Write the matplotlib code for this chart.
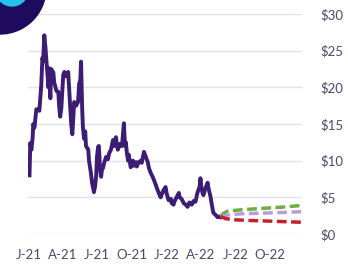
import matplotlib
matplotlib.use("Agg")
import matplotlib.pyplot as plt
import matplotlib.transforms as mtransforms
from matplotlib.patches import Circle
import pandas as pd

# ---- data (days since 2021-01-01, price in $) ----
start = pd.Timestamp("2021-01-01")
hist_days = [3, 5, 8, 11, 13, 16, 18, 21, 26, 29, 34, 37, 39, 42, 45, 47, 50, 53, 55, 58,
             60, 66, 68, 74, 79, 81, 84, 87, 92, 95, 100, 105, 108, 110, 113, 116, 118, 121,
             126, 131, 134, 137, 139, 142, 144, 147, 150, 152, 158, 160, 163, 165, 168, 171,
             173, 176, 179, 181, 184, 186, 189, 192, 194, 197, 200, 205, 210, 213, 218, 223,
             226, 231, 234, 236, 242, 247, 252, 255, 257, 260, 263, 265, 270, 276, 278, 284,
             286, 291, 297, 299, 305, 310, 315, 318, 323, 328, 334, 341, 347, 349, 355, 357,
             362, 365, 370, 376, 378, 383, 386, 391, 397, 399, 404, 410, 415, 420, 425, 431,
             436, 441, 446, 452, 454, 457, 460, 462, 467, 473, 475, 481, 483, 486, 488, 494,
             499, 504, 507]
hist_price = [8.0, 12.4, 11.5, 13.0, 15.0, 14.5, 15.5, 17.0, 17.0, 16.8, 20.3, 24.0, 23.5,
              27.1, 25.5, 24.0, 22.0, 20.0, 22.6, 18.5, 22.5, 22.0, 20.7, 19.5, 19.4, 17.5,
              16.0, 17.2, 21.7, 22.1, 21.5, 22.1, 19.4, 17.5, 15.0, 13.6, 15.3, 18.0, 17.5,
              18.0, 20.5, 21.0, 23.5, 17.0, 14.5, 13.0, 14.0, 12.0, 11.5, 10.0, 9.0, 8.3,
              7.0, 6.2, 5.7, 6.5, 8.0, 10.5, 11.9, 12.0, 9.0, 7.8, 8.8, 9.0, 9.7, 10.5, 10.2,
              11.0, 11.5, 12.8, 12.0, 13.2, 12.0, 11.5, 12.3, 12.0, 15.1, 12.0, 12.5, 11.0,
              10.0, 10.8, 9.1, 10.0, 9.3, 9.8, 9.2, 9.8, 10.0, 9.7, 11.2, 10.5, 9.8, 9.0,
              8.3, 7.8, 7.0, 6.0, 5.2, 5.0, 5.8, 6.0, 6.4, 5.5, 4.6, 4.8, 4.2, 4.0, 4.5, 5.0,
              5.6, 5.0, 4.8, 4.2, 4.0, 3.7, 4.3, 4.0, 4.5, 4.4, 5.6, 6.5, 7.6, 6.2, 5.5, 5.3,
              6.2, 7.0, 6.3, 5.0, 4.3, 3.5, 2.9, 2.6, 2.3, 2.4, 2.3]

high_days = [507, 515, 525, 560, 620, 680, 722]
high_price = [2.4, 2.8, 3.1, 3.3, 3.5, 3.7, 3.9]
mid_days = [507, 530, 560, 620, 680, 722]
mid_price = [2.4, 2.6, 2.75, 2.85, 2.95, 3.05]
low_days = [507, 520, 540, 580, 640, 722]
low_price = [2.4, 2.1, 1.95, 1.85, 1.75, 1.6]

tick_dates = ["2021-01-01", "2021-04-01", "2021-07-01", "2021-10-01",
              "2022-01-01", "2022-04-01", "2022-07-01", "2022-10-01"]
tick_labels = ["J-21", "A-21", "J-21", "O-21", "J-22", "A-22", "J-22", "O-22"]
y_ticks = [0, 5, 10, 15, 20, 25, 30]
y_labels = ["$0", "$5", "$10", "$15", "$20", "$25", "$30"]

def to_dates(days):
    return [start + pd.Timedelta(days=d) for d in days]

plt.rcParams['font.family'] = ['Lato', 'DejaVu Sans']
fig = plt.figure(figsize=(3.48, 2.65), dpi=100)
ax = fig.add_axes([28 / 348, 31 / 265, 274 / 348, 220 / 265])

text_col = "#4d4670"
ax.set_ylim(0, 30)
ax.set_xlim(start + pd.Timedelta(days=-1), start + pd.Timedelta(days=722))
for s in ax.spines.values():
    s.set_visible(False)
ax.yaxis.tick_right()
ax.set_yticks(y_ticks)
ax.set_yticklabels(y_labels)
ax.set_xticks(pd.to_datetime(tick_dates))
ax.set_xticklabels(tick_labels)
ax.tick_params(axis='y', length=0, pad=13, labelsize=9.5, labelcolor=text_col)
ax.tick_params(axis='x', length=0, pad=11, labelsize=9.5, labelcolor=text_col)
ax.grid(axis='y', color="#e4e0f2", linewidth=1.0)
ax.grid(axis='x', visible=False)
ax.set_axisbelow(True)

ax.plot(to_dates(hist_days), hist_price, color="#3c1d73", linewidth=2.8,
        solid_joinstyle='round', zorder=3)
ax.plot(to_dates(high_days), high_price, color="#6fae38", linewidth=2.5,
        dashes=(2.8, 1.3), zorder=4)
ax.plot(to_dates(mid_days), mid_price, color="#b59de3", linewidth=2.5,
        dashes=(2.8, 1.3), zorder=4)
ax.plot(to_dates(low_days), low_price, color="#c4202b", linewidth=2.5,
        dashes=(2.8, 1.3), zorder=4)

# logo corner
idt = mtransforms.IdentityTransform()
fig.add_artist(Circle((0, 265 + 12), 46, transform=idt, color="#1e0b5e", zorder=10))
fig.add_artist(Circle((12, 265 + 10), 16, transform=idt, color="#22c3ea", zorder=11))

fig.savefig("out.png", dpi=100)
